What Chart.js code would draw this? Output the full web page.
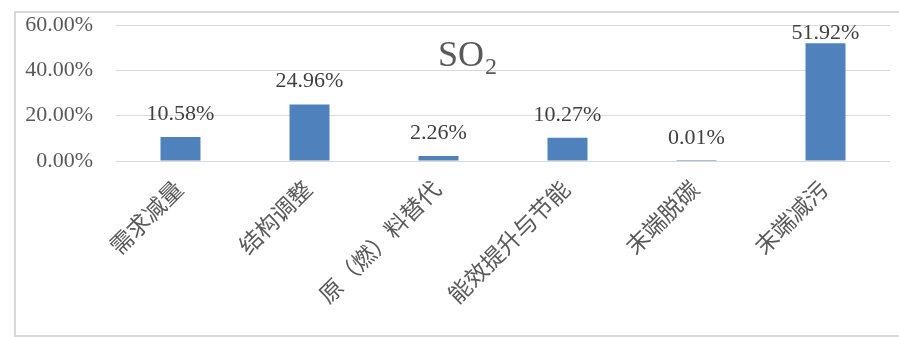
<!DOCTYPE html>
<html>
<head>
<meta charset="utf-8">
<script src="https://cdn.jsdelivr.net/npm/chart.js@4/dist/chart.umd.min.js"></script>
<style>
  html, body { margin: 0; padding: 0; background: #fff; }
  #wrap { position: relative; width: 899px; height: 337px; }
  #frame { position: absolute; left: 14px; top: 11px; width: 900px; height: 322px; border: 2px solid #D9D9D9; box-sizing: content-box; }
  canvas { position: absolute; left: 0; top: 0; }
</style>
</head>
<body>
<div id="wrap">
  <div id="frame"></div>
  <canvas id="c" width="899" height="337"></canvas>
</div>
<script>
const categories = ['需求减量', '结构调整', '原（燃）料替代', '能效提升与节能', '末端脱碳', '末端减污'];
const values = [10.58, 24.96, 2.26, 10.27, 0.01, 51.92];
const yTickValues = [0, 20, 40, 60];
const titleMain = 'SO';
const titleSub = '2';

const SERIF = '"Liberation Serif", "Times New Roman", "Noto Sans CJK SC", serif';

const titlePlugin = {
  id: 'soTitle',
  afterDraw(chart) {
    const { ctx, chartArea } = chart;
    ctx.save();
    ctx.fillStyle = '#595959';
    ctx.textBaseline = 'alphabetic';
    ctx.font = '36px ' + SERIF;
    const w1 = ctx.measureText(titleMain).width;
    ctx.font = '24px ' + SERIF;
    const w2 = ctx.measureText(titleSub).width;
    const cx = chartArea.left + chartArea.width * 0.4535;
    const x0 = cx - (w1 + w2) / 2;
    const base = chartArea.top + 41;
    ctx.font = '36px ' + SERIF;
    ctx.textAlign = 'left';
    ctx.fillText(titleMain, x0, base);
    ctx.font = '24px ' + SERIF;
    ctx.fillText(titleSub, x0 + w1 + 1, base + 8);
    ctx.restore();
  }
};

const labelPlugin = {
  id: 'barLabels',
  afterDatasetsDraw(chart) {
    const { ctx, chartArea } = chart;
    const meta = chart.getDatasetMeta(0);
    ctx.save();
    ctx.fillStyle = '#404040';
    ctx.font = '22px ' + SERIF;
    ctx.textAlign = 'center';
    ctx.textBaseline = 'alphabetic';
    meta.data.forEach((bar, i) => {
      let y = bar.y - 17;
      y = Math.max(y, chartArea.top + 14);
      ctx.fillText(values[i].toFixed(2) + '%', bar.x, y);
    });
    ctx.restore();
  }
};

new Chart(document.getElementById('c'), {
  type: 'bar',
  data: {
    labels: categories,
    datasets: [{
      data: values,
      backgroundColor: '#4F81BD',
      borderWidth: 0,
      barPercentage: 0.31,
      categoryPercentage: 1.0
    }]
  },
  options: {
    responsive: false,
    animation: false,
    layout: { padding: { top: 25, right: 9, left: 15, bottom: 4 } },
    plugins: {
      legend: { display: false },
      tooltip: { enabled: false },
      title: { display: false }
    },
    scales: {
      x: {
        grid: { display: false, drawTicks: false },
        border: { display: false },
        ticks: {
          minRotation: 45,
          maxRotation: 45,
          padding: 16,
          color: '#595959',
          font: { family: SERIF, size: 23 }
        },
        afterFit(scale) { scale.height = 337 - 161 - 4; }
      },
      y: {
        min: 0,
        max: 60,
        afterBuildTicks(scale) { scale.ticks = yTickValues.map(v => ({ value: v })); },
        grid: { color: '#D9D9D9', lineWidth: 1, drawTicks: false },
        border: { display: false },
        ticks: {
          padding: 23,
          color: '#595959',
          font: { family: SERIF, size: 22 },
          callback: v => v.toFixed(2) + '%'
        },
        afterFit(scale) {
          scale.width = 116 - 15;
          scale.paddingTop = 10;
          scale.paddingBottom = 10;
        }
      }
    }
  },
  plugins: [titlePlugin, labelPlugin]
});
</script>
</body>
</html>
